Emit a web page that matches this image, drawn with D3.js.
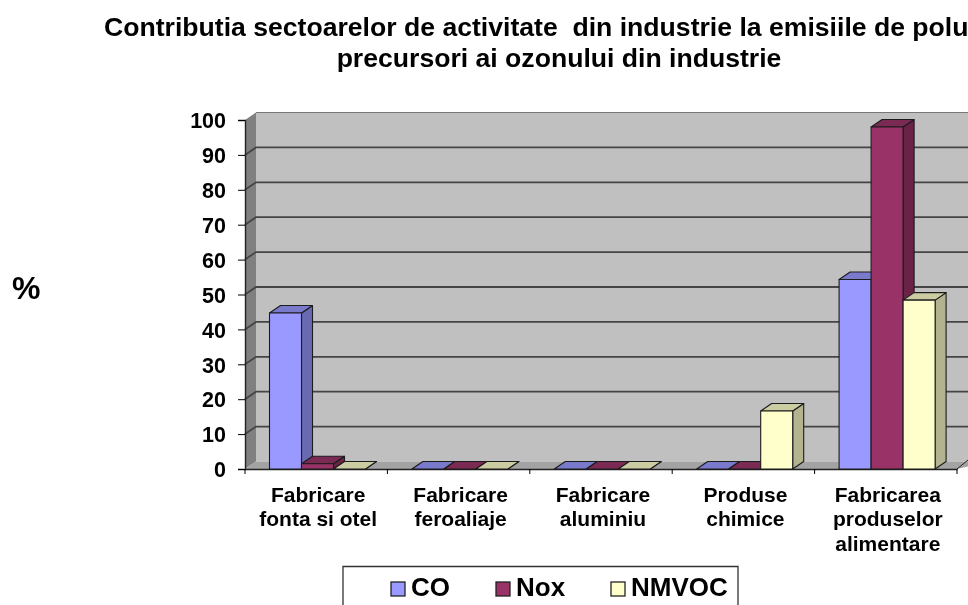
<!DOCTYPE html>
<html>
<head>
<meta charset="utf-8">
<script src="https://cdn.jsdelivr.net/npm/d3@7"></script>
<style>
html, body { margin: 0; padding: 0; background: #fff; overflow: hidden; }
text { font-family: "Liberation Sans", Arial, sans-serif; font-weight: bold; fill: #000; }
</style>
</head>
<body>
<script>
// values
const categories = ["Fabricare fonta si otel", "Fabricare feroaliaje", "Fabricare aluminiu", "Produse chimice", "Fabricarea produselor alimentare"];
const categoryLines = [["Fabricare", "fonta si otel"], ["Fabricare", "feroaliaje"], ["Fabricare", "aluminiu"], ["Produse", "chimice"], ["Fabricarea", "produselor", "alimentare"]];
const seriesNames = ["CO", "Nox", "NMVOC"];
const coValues = [44.7, 0, 0, 0, 54.3];
const noxValues = [1.5, 0, 0, 0, 98];
const nmvocValues = [0, 0, 0, 16.6, 48.4];
const yTicks = [0, 10, 20, 30, 40, 50, 60, 70, 80, 90, 100];
const titleLines = ["Contributia sectoarelor de activitate\u00a0 din industrie la emisiile de polu", "precursori ai ozonului din industrie"];

const front = ["#9999ff", "#993366", "#ffffcc"];
const side = ["#6b6bb3", "#6b2447", "#b3b38f"];
const top_ = ["#7a7acc", "#7a2952", "#cccca3"];

const width = 968, height = 605;
const depthX = 11, depthY = 7.5;

const svg = d3.select("body").append("svg")
    .attr("width", width)
    .attr("height", height)
    .style("display", "block");

// slight softening, the source is a resampled screenshot
svg.append("defs").append("filter").attr("id", "soft")
    .append("feGaussianBlur").attr("stdDeviation", 0.45);

const root = svg.append("g").attr("filter", "url(#soft)");

const x = d3.scaleBand().domain(categories).range([245, 957]);
const y = d3.scaleLinear().domain([0, 100]).range([469, 120]);
const xSeries = d3.scaleBand().domain(seriesNames).range([24.5, 120.5]);

// walls and floor
const poly = pts => pts.map(p => p.join(",")).join(" ");
const y0 = y(0), y100 = y(100);
root.append("polygon").attr("points", poly([[245 + depthX, y100 - depthY], [width + 2, y100 - depthY], [width + 2, y0 - depthY], [245 + depthX, y0 - depthY]])).attr("fill", "#c0c0c0");
root.append("polygon").attr("points", poly([[245, y100], [245 + depthX, y100 - depthY], [245 + depthX, y0 - depthY], [245, y0]])).attr("fill", "#808080");
root.append("polygon").attr("points", poly([[245, y0], [245 + depthX, y0 - depthY], [width + 2, y0 - depthY], [width + 2, y0 - 3], [957, y0]])).attr("fill", "#a3a3a3");
root.append("line").attr("x1", 245 + depthX).attr("x2", width + 2).attr("y1", y100 - depthY).attr("y2", y100 - depthY).attr("stroke", "#777").attr("stroke-width", 1.2);

// gridlines on side wall and back wall
root.append("g").selectAll("path")
    .data(yTicks.filter(d => d > 0 && d < 100))
    .enter().append("path")
    .attr("d", d => `M245,${y(d)}L${245 + depthX},${y(d) - depthY}L${width + 2},${y(d) - depthY}`)
    .attr("fill", "none")
    .attr("stroke", "#444")
    .attr("stroke-width", 1.8);

// axes
const yAxis = d3.axisLeft(y).tickValues(yTicks).tickSize(7).tickPadding(12);
const gy = root.append("g").attr("transform", "translate(245,0)").call(yAxis);
gy.selectAll("text").style("font-size", "21.5px").attr("dy", "0.36em");
const xAxis = d3.axisBottom(x).tickValues([]).tickSizeOuter(0);
const gx = root.append("g").attr("transform", `translate(0,${y0})`).call(xAxis);
gx.selectAll(".tick-edge")
    .data(d3.range(categories.length + 1))
    .enter().append("line")
    .attr("class", "tick-edge")
    .attr("x1", i => i < categories.length ? x(categories[i]) : x.range()[1])
    .attr("x2", i => i < categories.length ? x(categories[i]) : x.range()[1])
    .attr("y1", 0).attr("y2", 5)
    .attr("stroke", "#000");
root.selectAll("path.domain").attr("stroke", "#222").attr("stroke-width", 1.4);
root.append("line").attr("x1", 957).attr("x2", width).attr("y1", y0).attr("y2", y0 - 9).attr("stroke", "#222");

// columns
const seriesValues = [coValues, noxValues, nmvocValues];
const bars = root.append("g");
categories.forEach((cat, ci) => {
    seriesNames.forEach((name, si) => {
        const v = seriesValues[si][ci];
        const x0 = x(cat) + xSeries(name), x1 = x0 + xSeries.bandwidth(), yt = y(v);
        const g = bars.append("g").attr("stroke", "#1c1c1c").attr("stroke-width", 1.1).attr("stroke-linejoin", "round");
        g.append("polygon").attr("points", poly([[x1, yt], [x1 + depthX, yt - depthY], [x1 + depthX, y0 - depthY], [x1, y0]])).attr("fill", side[si]);
        g.append("polygon").attr("points", poly([[x0, yt], [x0 + depthX, yt - depthY], [x1 + depthX, yt - depthY], [x1, yt]])).attr("fill", top_[si]);
        if (v > 0) g.append("rect").attr("x", x0).attr("y", yt).attr("width", x1 - x0).attr("height", y0 - yt).attr("fill", front[si]);
    });
});

// category labels
const labels = root.append("g").selectAll("text")
    .data(categories)
    .enter().append("text")
    .attr("text-anchor", "middle")
    .style("font-size", "21px");
labels.each(function (d, i) {
    d3.select(this).selectAll("tspan")
        .data(categoryLines[i])
        .enter().append("tspan")
        .attr("x", x(d) + x.bandwidth() / 2 + 2)
        .attr("y", (t, k) => 502 + k * 24.3)
        .text(t => t);
});

// title and unit
root.append("text").attr("x", 104).attr("y", 36).style("font-size", "26.6px").text(titleLines[0]);
root.append("text").attr("x", 559).attr("y", 67).attr("text-anchor", "middle").style("font-size", "26.6px").text(titleLines[1]);
root.append("text").attr("x", 12).attr("y", 299).style("font-size", "32px").text("%");

// legend
const legend = root.append("g");
legend.append("path").attr("d", `M343,${height + 2}V566.5H738V${height + 2}`).attr("fill", "#fff").attr("stroke", "#333").attr("stroke-width", 1.3);
const legendX = d3.scaleOrdinal().domain(seriesNames).range([391, 496, 611]);
const items = legend.selectAll("g.item").data(seriesNames).enter().append("g").attr("class", "item")
    .attr("transform", d => `translate(${legendX(d)},0)`);
items.append("rect").attr("y", 582).attr("width", 14).attr("height", 14)
    .attr("fill", (d, i) => front[i]).attr("stroke", "#222").attr("stroke-width", 1.3);
items.append("text").attr("x", 20).attr("y", 596).style("font-size", "26px").text(d => d);
</script>
</body>
</html>
